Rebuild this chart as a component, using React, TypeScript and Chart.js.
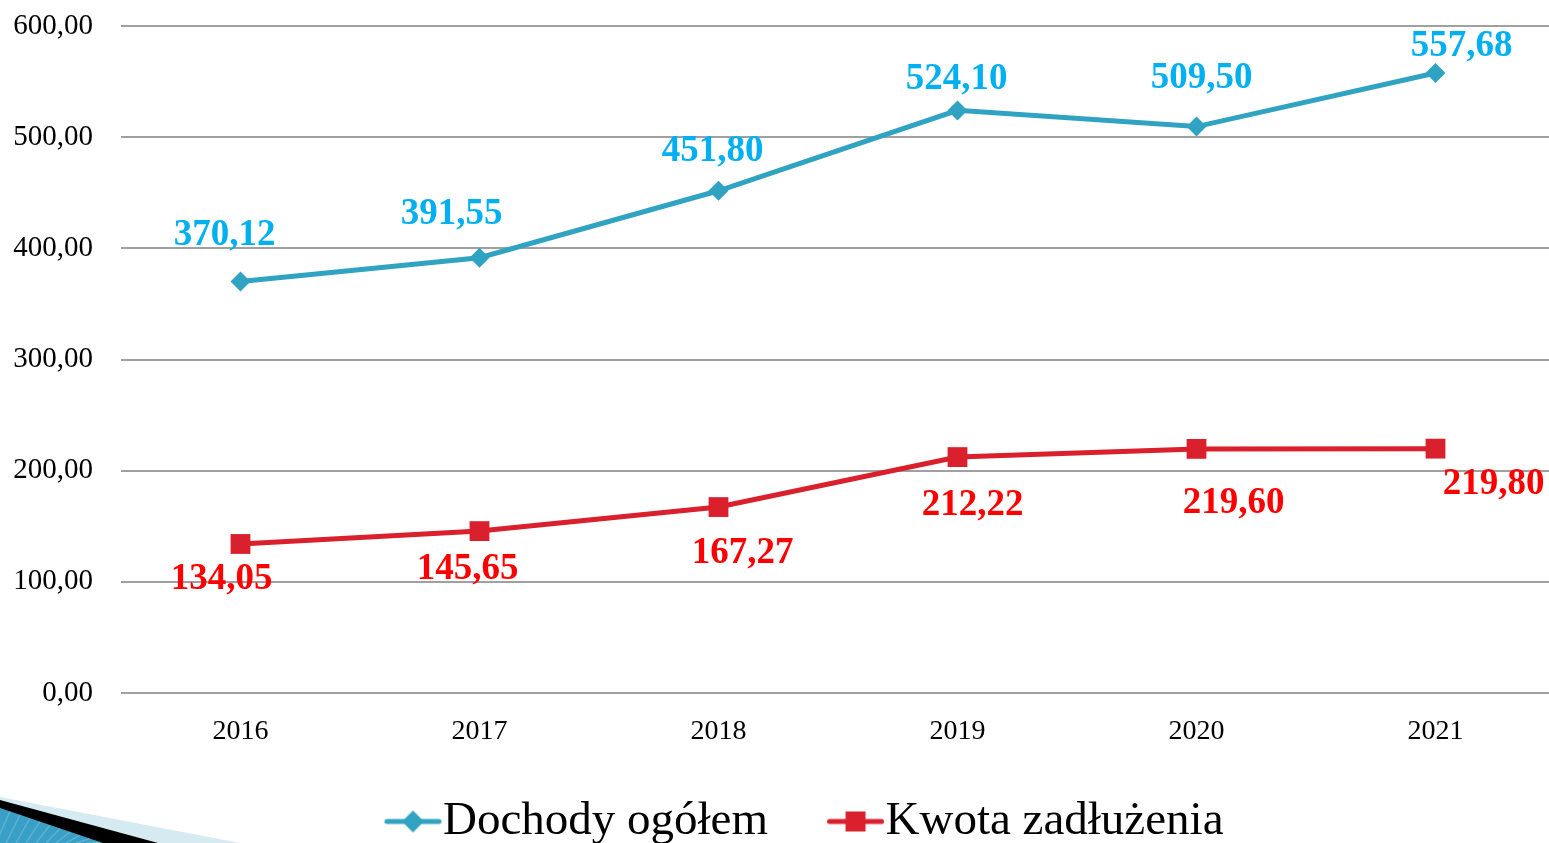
import React, { useEffect, useRef } from 'react';
import { Chart, registerables } from 'chart.js';

Chart.register(...registerables);

const years = ['2016', '2017', '2018', '2019', '2020', '2021'];
const dochody = [370.12, 391.55, 451.8, 524.1, 509.5, 557.68];
const zadluzenie = [134.05, 145.65, 167.27, 212.22, 219.6, 219.8];
const seriesNames = ['Dochody ogółem', 'Kwota zadłużenia'];
const yMin = 0;
const yMax = 600;
const yStep = 100;

// label placement relative to each point: [dx, baseline dy]
const dochodyLabelOffsets = [[-16, -37], [-28, -34], [-6, -30], [-1, -21], [5, -39], [26, -17]];
const zadluzenieLabelOffsets = [[-19, 45], [-12, 48], [24, 56], [15, 58], [37, 64], [58, 45]];

const FONT = '"Liberation Serif", "Times New Roman", serif';
const BLUE_LINE = '#30A3C3';
const RED_LINE = '#DA202C';
const BLUE_LABEL = '#00B0F0';
const RED_LABEL = '#FF0000';

const CANVAS_W = 1555;
const CANVAS_H = 855;
const LEGEND_FONT = 47;
const LEGEND_PAD = 6;
const LEGEND_BOX = 88;
const ICON_W = 150;

const fmt = (v: number) => v.toFixed(2).replace('.', ',');

function makeIcon(color: string, kind: 'diamond' | 'square') {
  const c = document.createElement('canvas');
  c.width = ICON_W;
  c.height = 26;
  const g = c.getContext('2d')!;
  const half = LEGEND_FONT / 2;
  const right = ICON_W / 2 + (LEGEND_BOX + half - 2 - LEGEND_BOX / 2);
  const left = right - 56;
  const cx = (left + right) / 2;
  g.strokeStyle = color;
  g.lineWidth = 5;
  g.lineCap = 'round';
  g.beginPath();
  g.moveTo(left + 2, 13);
  g.lineTo(right - 2, 13);
  g.stroke();
  g.fillStyle = color;
  if (kind === 'diamond') {
    g.beginPath();
    g.moveTo(cx - 11, 13);
    g.lineTo(cx, 2);
    g.lineTo(cx + 11, 13);
    g.lineTo(cx, 24);
    g.closePath();
    g.fill();
  } else {
    g.fillRect(cx - 10, 3, 20, 20);
  }
  return c;
}

const decorationPlugin = {
  id: 'decoration',
  beforeDraw(chart: any) {
    const ctx = chart.ctx;
    const b = 843;
    ctx.save();
    ctx.fillStyle = '#D6EAF2';
    ctx.beginPath();
    ctx.moveTo(0, b - 46);
    ctx.lineTo(240, b);
    ctx.lineTo(0, b);
    ctx.closePath();
    ctx.fill();
    ctx.fillStyle = '#000000';
    ctx.beginPath();
    ctx.moveTo(0, b - 43);
    ctx.lineTo(158, b);
    ctx.lineTo(0, b);
    ctx.closePath();
    ctx.fill();
    ctx.fillStyle = '#3A9FC6';
    ctx.beginPath();
    ctx.moveTo(0, b - 35);
    ctx.lineTo(103, b);
    ctx.lineTo(0, b);
    ctx.closePath();
    ctx.fill();
    ctx.strokeStyle = 'rgba(255,255,255,0.18)';
    ctx.lineWidth = 1.5;
    for (let i = 0; i < 12; i++) {
      const x0 = i * 10;
      ctx.beginPath();
      ctx.moveTo(x0, b - 35 + x0 * 0.34);
      ctx.lineTo(x0 - 14, b);
      ctx.stroke();
    }
    ctx.restore();
  },
};

const labelPlugin = {
  id: 'valueLabels',
  afterDatasetsDraw(chart: any) {
    const ctx = chart.ctx;
    ctx.save();
    ctx.font = `bold 37px ${FONT}`;
    ctx.textAlign = 'center';
    ctx.textBaseline = 'alphabetic';
    chart.data.datasets.forEach((ds: any, i: number) => {
      const meta = chart.getDatasetMeta(i);
      const offs = i === 0 ? dochodyLabelOffsets : zadluzenieLabelOffsets;
      ctx.fillStyle = i === 0 ? BLUE_LABEL : RED_LABEL;
      meta.data.forEach((pt: any, j: number) => {
        ctx.fillText(fmt(ds.data[j]), pt.x + offs[j][0], pt.y + offs[j][1]);
      });
    });
    ctx.restore();
  },
};

export default function App() {
  const ref = useRef<HTMLCanvasElement | null>(null);

  useEffect(() => {
    if (!ref.current) return;
    const icons = [makeIcon(BLUE_LINE, 'diamond'), makeIcon(RED_LINE, 'square')];
    const chart = new Chart(ref.current, {
      type: 'line',
      data: {
        labels: years,
        datasets: [
          {
            label: seriesNames[0],
            data: dochody,
            borderColor: BLUE_LINE,
            backgroundColor: BLUE_LINE,
            borderWidth: 5,
            tension: 0,
            pointStyle: 'rectRot',
            pointRadius: 10,
            pointBorderWidth: 0,
            pointBackgroundColor: BLUE_LINE,
          },
          {
            label: seriesNames[1],
            data: zadluzenie,
            borderColor: RED_LINE,
            backgroundColor: RED_LINE,
            borderWidth: 5,
            tension: 0,
            pointStyle: 'rect',
            pointRadius: 14,
            pointBorderWidth: 0,
            pointBackgroundColor: RED_LINE,
          },
        ],
      },
      options: {
        responsive: false,
        animation: false,
        layout: { autoPadding: false, padding: { top: 26, left: 0, right: 0, bottom: 0 } },
        plugins: {
          tooltip: { enabled: false },
          legend: {
            position: 'bottom',
            labels: {
              usePointStyle: true,
              pointStyleWidth: LEGEND_BOX,
              padding: LEGEND_PAD,
              color: '#000000',
              font: { family: FONT, size: LEGEND_FONT },
              generateLabels: () =>
                seriesNames.map((name, i) => ({
                  text: name,
                  pointStyle: icons[i] as any,
                  fillStyle: 'transparent',
                  strokeStyle: 'transparent',
                  lineWidth: 0,
                  hidden: false,
                  datasetIndex: i,
                  fontColor: '#000000',
                })),
            },
          },
        },
        scales: {
          x: {
            offset: true,
            grid: { display: false, drawTicks: false, offset: true },
            border: { display: false },
            ticks: {
              padding: 22,
              color: '#000000',
              font: { family: FONT, size: 28 },
            },
            afterFit: (scale: any) => {
              scale.height = 99;
            },
          },
          y: {
            min: yMin,
            max: yMax,
            grid: {
              color: '#A0A0A0',
              lineWidth: 2,
              drawTicks: true,
              tickLength: 28,
              tickColor: 'rgba(0,0,0,0)',
            },
            border: { display: false },
            ticks: {
              stepSize: yStep,
              padding: 0,
              color: '#000000',
              font: { family: FONT, size: 29 },
              callback: (v: any) => fmt(Number(v)),
            },
            afterFit: (scale: any) => {
              scale.width = 121;
            },
          },
        },
      },
      plugins: [decorationPlugin, labelPlugin],
    });
    return () => chart.destroy();
  }, []);

  return (
    <div
      style={{
        position: 'absolute',
        left: 0,
        top: 0,
        width: 1549,
        height: 843,
        overflow: 'hidden',
        background: '#FFFFFF',
      }}
    >
      <canvas ref={ref} width={CANVAS_W} height={CANVAS_H} style={{ display: 'block' }} />
    </div>
  );
}
